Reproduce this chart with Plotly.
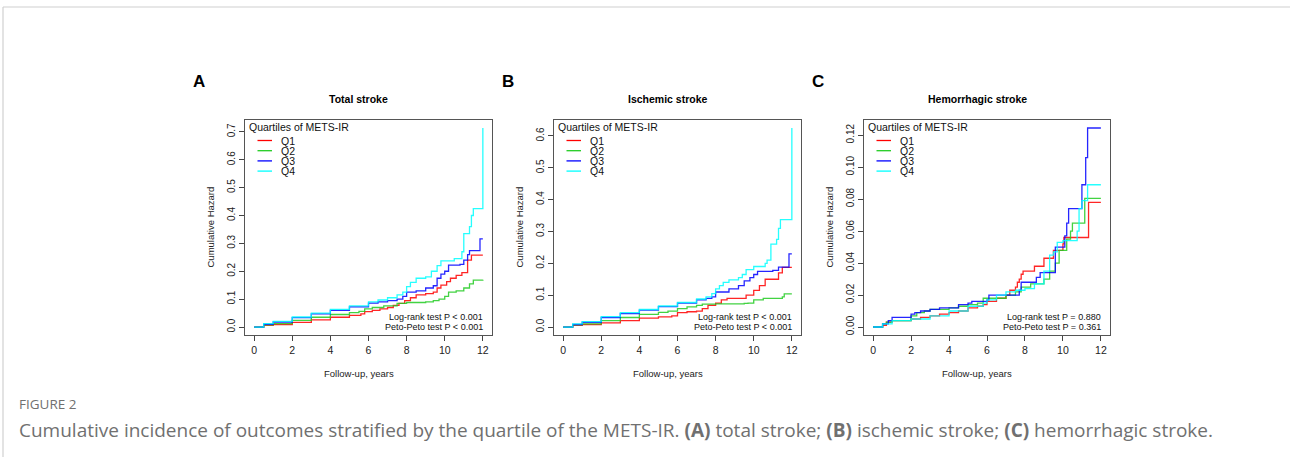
import plotly.graph_objects as go

W, H = 1290, 461

# ---------------- data ----------------
years_ticks = [0, 2, 4, 6, 8, 10, 12]
quartiles = ["Q1", "Q2", "Q3", "Q4"]
panel_letters = ["A", "B", "C"]
panel_titles = ["Total stroke", "Ischemic stroke", "Hemorrhagic stroke"]
logrank_text = ["Log-rank test P < 0.001", "Log-rank test P < 0.001", "Log-rank test P = 0.880"]
petopeto_text = ["Peto-Peto test P < 0.001", "Peto-Peto test P < 0.001", "Peto-Peto test P = 0.361"]

# Panel A: total stroke
A_Q1_t = [0, 0.5, 1, 2, 3, 4, 5, 5.6, 5.8, 6.2, 6.6, 7, 7.3, 7.6, 7.9, 8.2, 8.5, 9.0, 9.4, 9.6, 9.8, 10.1, 10.3, 10.6, 10.9, 11.2, 11.4, 12]
A_Q1_h = [0, 0.006, 0.009, 0.017, 0.026, 0.035, 0.042, 0.047, 0.055, 0.06, 0.065, 0.07, 0.078, 0.085, 0.095, 0.105, 0.115, 0.12, 0.125, 0.14, 0.15, 0.163, 0.175, 0.185, 0.195, 0.24, 0.258, 0.258]
A_Q2_t = [0, 0.5, 1, 2, 3, 4, 5, 5.5, 5.8, 6.2, 6.8, 7.5, 8, 9, 9.4, 9.7, 10, 10.2, 10.6, 11, 11.3, 11.5, 12]
A_Q2_h = [0, 0.008, 0.012, 0.024, 0.035, 0.045, 0.052, 0.056, 0.065, 0.07, 0.076, 0.085, 0.088, 0.09, 0.095, 0.1, 0.11, 0.125, 0.13, 0.14, 0.155, 0.168, 0.17]
A_Q3_t = [0, 0.5, 1, 2, 3, 4, 5, 6, 6.5, 7, 7.5, 7.8, 8, 8.5, 9, 9.4, 9.6, 9.8, 10, 10.2, 10.8, 11, 11.2, 11.3, 11.8, 11.85, 12]
A_Q3_h = [0, 0.01, 0.018, 0.034, 0.047, 0.06, 0.072, 0.086, 0.09, 0.095, 0.1, 0.11, 0.125, 0.13, 0.14, 0.148, 0.175, 0.19, 0.2, 0.222, 0.225, 0.24, 0.26, 0.274, 0.274, 0.316, 0.316]
A_Q4_t = [0, 0.5, 1, 2, 3, 4, 5, 6, 6.5, 7, 7.5, 7.8, 8, 8.2, 8.5, 9, 9.3, 9.6, 9.8, 10.5, 10.8, 10.9, 11.0, 11.2, 11.3, 11.4, 11.5, 12, 12]
A_Q4_h = [0, 0.012, 0.02, 0.036, 0.05, 0.063, 0.076, 0.09, 0.097, 0.105, 0.115, 0.125, 0.145, 0.16, 0.175, 0.18, 0.2, 0.22, 0.237, 0.245, 0.245, 0.27, 0.335, 0.335, 0.36, 0.4, 0.425, 0.425, 0.714]

# Panel B: ischemic stroke
B_Q1_t = [0, 0.5, 1, 2, 3, 4, 5, 5.7, 6, 6.5, 7, 7.3, 7.6, 8, 8.3, 8.6, 9.4, 9.6, 10, 10.3, 10.6, 11, 11.3, 11.5, 12]
B_Q1_h = [0, 0.005, 0.008, 0.013, 0.02, 0.028, 0.032, 0.035, 0.045, 0.048, 0.05, 0.058, 0.068, 0.075, 0.085, 0.09, 0.09, 0.1, 0.115, 0.13, 0.15, 0.15, 0.17, 0.187, 0.187]
B_Q2_t = [0, 0.5, 1, 2, 3, 4, 5, 5.5, 6, 6.5, 7, 7.3, 8, 9.5, 9.7, 10, 10.5, 11.5, 11.6, 12]
B_Q2_h = [0, 0.007, 0.01, 0.02, 0.03, 0.04, 0.046, 0.05, 0.058, 0.063, 0.068, 0.072, 0.073, 0.074, 0.075, 0.085, 0.09, 0.095, 0.104, 0.104]
B_Q3_t = [0, 0.5, 1, 2, 3, 4, 5, 6, 7, 7.5, 7.8, 8, 8.7, 9.2, 9.5, 9.8, 10, 10.2, 11, 11.3, 11.8, 11.85, 12]
B_Q3_h = [0, 0.008, 0.015, 0.03, 0.042, 0.053, 0.064, 0.075, 0.085, 0.09, 0.095, 0.11, 0.12, 0.13, 0.145, 0.155, 0.165, 0.175, 0.178, 0.188, 0.188, 0.23, 0.23]
B_Q4_t = [0, 0.5, 1, 2, 3, 4, 5, 6, 7, 7.5, 7.8, 8, 8.2, 8.4, 8.7, 9.2, 9.4, 9.6, 10, 10.6, 10.7, 10.9, 11.2, 11.3, 11.4, 12, 12]
B_Q4_h = [0, 0.01, 0.017, 0.033, 0.045, 0.055, 0.066, 0.077, 0.088, 0.095, 0.105, 0.12, 0.13, 0.14, 0.148, 0.155, 0.165, 0.18, 0.19, 0.2, 0.21, 0.26, 0.275, 0.31, 0.337, 0.337, 0.625]

# Panel C: hemorrhagic stroke
C_Q1_t = [0, 0.5, 0.7, 1, 2, 2.5, 3, 3.5, 4, 4.5, 5, 5.5, 5.8, 6, 6.5, 7, 7.2, 7.5, 7.6, 7.7, 7.8, 7.9, 8.5, 9, 9.5, 10, 10.05, 11.3, 11.35, 12]
C_Q1_h = [0, 0.001, 0.003, 0.004, 0.005, 0.006, 0.007, 0.008, 0.009, 0.01, 0.012, 0.013, 0.014, 0.016, 0.018, 0.02, 0.023, 0.025, 0.028, 0.03, 0.033, 0.035, 0.038, 0.043, 0.048, 0.052, 0.056, 0.056, 0.078, 0.078]
C_Q2_t = [0, 0.5, 0.7, 1, 2, 2.3, 2.7, 3, 4, 4.5, 5, 5.5, 5.8, 6, 7, 7.5, 7.8, 8.3, 8.8, 9, 9.3, 9.6, 9.8, 10.2, 10.4, 10.5, 11.1, 11.15, 12]
C_Q2_h = [0, 0.002, 0.003, 0.004, 0.007, 0.009, 0.01, 0.011, 0.012, 0.013, 0.014, 0.015, 0.018, 0.018, 0.02, 0.022, 0.025, 0.027, 0.027, 0.03, 0.035, 0.04, 0.048, 0.055, 0.06, 0.065, 0.065, 0.0805, 0.0805]
C_Q3_t = [0, 0.5, 0.8, 1, 2, 2.2, 2.5, 3, 3.5, 4, 4.5, 5, 5.2, 5.8, 6, 6.1, 7.5, 7.7, 7.8, 8.5, 8.6, 8.8, 9.5, 9.6, 10, 10.1, 10.2, 10.3, 10.9, 11.0, 11.2, 11.3, 12]
C_Q3_h = [0, 0.002, 0.004, 0.006, 0.008, 0.009, 0.01, 0.011, 0.012, 0.012, 0.014, 0.015, 0.016, 0.016, 0.017, 0.02, 0.02, 0.023, 0.028, 0.028, 0.031, 0.034, 0.034, 0.05, 0.05, 0.057, 0.065, 0.074, 0.074, 0.089, 0.106, 0.1245, 0.1245]
C_Q4_t = [0, 0.5, 1, 2, 3, 4, 5, 5.8, 6, 6.5, 7, 7.5, 8, 8.5, 9, 9.3, 9.5, 9.7, 10, 10.75, 10.85, 11.0, 11.3, 12]
C_Q4_h = [0, 0.002, 0.004, 0.005, 0.007, 0.01, 0.013, 0.015, 0.017, 0.02, 0.022, 0.023, 0.024, 0.027, 0.035, 0.045, 0.047, 0.053, 0.054, 0.06, 0.074, 0.079, 0.089, 0.089]

panel_series = [
    [(A_Q1_t, A_Q1_h), (A_Q2_t, A_Q2_h), (A_Q3_t, A_Q3_h), (A_Q4_t, A_Q4_h)],
    [(B_Q1_t, B_Q1_h), (B_Q2_t, B_Q2_h), (B_Q3_t, B_Q3_h), (B_Q4_t, B_Q4_h)],
    [(C_Q1_t, C_Q1_h), (C_Q2_t, C_Q2_h), (C_Q3_t, C_Q3_h), (C_Q4_t, C_Q4_h)],
]
y_ticks = [
    [0, 0.1, 0.2, 0.3, 0.4, 0.5, 0.6, 0.7],
    [0, 0.1, 0.2, 0.3, 0.4, 0.5, 0.6],
    [0, 0.02, 0.04, 0.06, 0.08, 0.10, 0.12],
]
y_ranges = [[-0.0286, 0.7426], [-0.025, 0.650], [-0.005, 0.1295]]
y_formats = [".1f", ".1f", ".2f"]

# ---------------- style ----------------
colors = ["#FF0000", "#22CC22", "#0000FF", "#00FFFF"]
FONT = "Liberation Sans, Arial, sans-serif"
boxes_x = [(245, 492), (554, 801), (864, 1110)]
box_top, box_bot = 120, 335

def px(x):
    return x / W

def py(y):
    return 1 - y / H

fig = go.Figure()
layout = dict(
    width=W, height=H, margin=dict(l=0, r=0, t=0, b=0),
    paper_bgcolor="white", plot_bgcolor="white", showlegend=False,
    font=dict(family=FONT, color="#222222"),
)
annotations = []
shapes = []

for i in range(3):
    xa = "x" if i == 0 else f"x{i+1}"
    ya = "y" if i == 0 else f"y{i+1}"
    xk = "xaxis" if i == 0 else f"xaxis{i+1}"
    yk = "yaxis" if i == 0 else f"yaxis{i+1}"
    for q in range(4):
        t, h = panel_series[i][q]
        fig.add_trace(go.Scatter(
            x=t, y=h, mode="lines", line=dict(color=colors[q], width=1.3, shape="hv"),
            opacity=0.85, xaxis=xa, yaxis=ya, name=quartiles[q], hoverinfo="skip"))
    l, r = boxes_x[i]
    layout[xk] = dict(
        domain=[px(l), px(r)], range=[-0.48, 12.48], anchor=ya,
        tickvals=years_ticks, ticks="outside", ticklen=5, tickcolor="#444",
        showline=True, linecolor="#555", linewidth=1, mirror=True,
        showgrid=False, zeroline=False, tickfont=dict(size=10.5, family=FONT, color="#222"),
        fixedrange=True,
    )
    layout[yk] = dict(
        domain=[py(box_bot), py(box_top)], range=y_ranges[i], anchor=xa,
        tickvals=y_ticks[i], tickformat=y_formats[i], ticks="outside", ticklen=5,
        tickcolor="#444", tickangle=-90,
        showline=True, linecolor="#555", linewidth=1, mirror=True,
        showgrid=False, zeroline=False, tickfont=dict(size=10, family=FONT, color="#222"),
        fixedrange=True,
    )
    cx = (l + r) / 2 - 10
    annotations.append(dict(text=f"<b>{panel_letters[i]}</b>", x=px(l - 54), y=py(82), xref="paper", yref="paper",
                            showarrow=False, xanchor="left", yanchor="middle",
                            font=dict(size=17, family=FONT, color="#000")))
    annotations.append(dict(text=f"<b>{panel_titles[i]}</b>", x=px(cx), y=py(99), xref="paper", yref="paper",
                            showarrow=False, xanchor="center", yanchor="middle",
                            font=dict(size=10.5, family=FONT, color="#000")))
    annotations.append(dict(text="Cumulative Hazard", x=px(l - 35), y=py((box_top + box_bot) / 2), xref="paper",
                            yref="paper", showarrow=False, textangle=-90, xanchor="center", yanchor="middle",
                            font=dict(size=9.5, family=FONT, color="#222")))
    annotations.append(dict(text="Follow-up, years", x=px(cx), y=py(373), xref="paper", yref="paper",
                            showarrow=False, xanchor="center", yanchor="middle",
                            font=dict(size=9.5, family=FONT, color="#222")))
    annotations.append(dict(text=logrank_text[i], x=px(r - 7), y=py(317), xref="paper", yref="paper",
                            showarrow=False, xanchor="right", yanchor="middle",
                            font=dict(size=9, family=FONT, color="#111")))
    annotations.append(dict(text=petopeto_text[i], x=px(r - 7), y=py(327), xref="paper", yref="paper",
                            showarrow=False, xanchor="right", yanchor="middle",
                            font=dict(size=9, family=FONT, color="#111")))
    annotations.append(dict(text="Quartiles of METS-IR", x=px(l + 2), y=py(127), xref="paper", yref="paper",
                            showarrow=False, xanchor="left", yanchor="middle",
                            font=dict(size=10.5, family=FONT, color="#111")))
    for q in range(4):
        yy = 140.5 + q * 10.2
        shapes.append(dict(type="line", xref="paper", yref="paper", x0=px(l + 12.5), x1=px(l + 27),
                           y0=py(yy), y1=py(yy), line=dict(color=colors[q], width=1.3)))
        annotations.append(dict(text=quartiles[q], x=px(l + 34), y=py(yy), xref="paper", yref="paper",
                                showarrow=False, xanchor="left", yanchor="middle",
                                font=dict(size=10.5, family=FONT, color="#111")))

# outer frame lines of the figure card
shapes.append(dict(type="line", xref="paper", yref="paper", x0=px(3), x1=1, y0=py(7), y1=py(7),
                   line=dict(color="#d0d0d0", width=1.2)))
shapes.append(dict(type="line", xref="paper", yref="paper", x0=px(3), x1=px(3), y0=py(7), y1=py(457),
                   line=dict(color="#d0d0d0", width=1.2)))

# caption
CAP_FONT = "Open Sans, Lato, sans-serif"
annotations.append(dict(text="FIGURE 2", x=px(17), y=py(404), xref="paper", yref="paper", showarrow=False,
                        xanchor="left", yanchor="middle", font=dict(size=13.5, family=CAP_FONT, color="#707070")))
annotations.append(dict(
    text="Cumulative incidence of outcomes stratified by the quartile of the METS-IR. <b>(A)</b> total stroke; "
         "<b>(B)</b> ischemic stroke; <b>(C)</b> hemorrhagic stroke.",
    x=px(17), y=py(430), xref="paper", yref="paper", showarrow=False, xanchor="left", yanchor="middle",
    font=dict(size=19, family=CAP_FONT, color="#707070")))

layout["annotations"] = annotations
layout["shapes"] = shapes
fig.update_layout(**layout)
fig.write_html("out.html")
